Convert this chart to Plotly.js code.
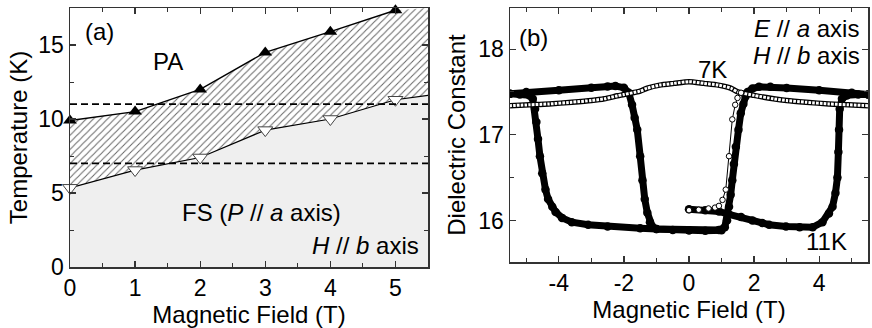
<!DOCTYPE html>
<html><head><meta charset="utf-8">
<script src="https://cdn.plot.ly/plotly-3.0.1.min.js"></script>
<style>html,body{margin:0;padding:0;background:#fff}#chart{width:872px;height:328px}</style>
</head><body><div id="chart"></div>
<script>
// ---------- Panel (a): H-T phase diagram ----------
const fieldA = [0, 1, 2, 3, 4, 5];
const tUpper = [9.9, 10.5, 12.0, 14.5, 15.9, 17.35];
const tLower = [5.35, 6.55, 7.4, 9.25, 10.0, 11.3];
const boundaryField = [0, 1, 2, 3, 4, 5, 5.5];
const upperBoundary = [9.9, 10.5, 12.0, 14.5, 15.9, 17.35, 17.5];
const lowerBoundary = [5.35, 6.55, 7.4, 9.25, 10.0, 11.3, 11.6];
const dashedLevels = [7, 11];
const tickValsA = [0, 1, 2, 3, 4, 5];
const tickValsTA = [0, 5, 10, 15];

// ---------- Panel (b): dielectric constant vs field ----------
// 11 K: virgin sweep 0 -> +5.5 T
const h11Virgin = [0, 0.5, 0.92, 1.23, 1.6, 1.95, 2.25, 2.46, 2.98, 3.4, 3.8, 4.1, 4.3, 4.41, 4.5, 4.56, 4.59, 4.61, 4.63, 4.7, 4.85, 5.2, 5.5];
const e11Virgin = [16.13, 16.12, 16.105, 16.07, 16.04, 16.0, 15.97, 15.95, 15.93, 15.92, 15.92, 15.98, 16.08, 16.16, 16.32, 16.5, 16.8, 17.06, 17.3, 17.42, 17.46, 17.47, 17.47];
// 11 K: sweep +5.5 -> -5.5 T
const h11Down = [5.5, 5.0, 4.0, 3.0, 2.5, 2.15, 1.95, 1.8, 1.74, 1.67, 1.59, 1.52, 1.44, 1.38, 1.33, 1.28, 1.23, 1.17, 1.1, 0.92, 0, -1.0, -1.5, -2.5, -3.1, -3.6, -3.9, -4.1, -4.2, -4.33, -4.41, -4.51, -4.58, -4.64, -4.69, -4.73, -4.8, -4.9, -5.2, -5.5];
const e11Down = [17.47, 17.49, 17.52, 17.545, 17.56, 17.56, 17.54, 17.5, 17.45, 17.36, 17.25, 17.06, 16.86, 16.66, 16.47, 16.3, 16.16, 16.0, 15.92, 15.89, 15.885, 15.9, 15.91, 15.93, 15.95, 15.98, 16.03, 16.1, 16.16, 16.25, 16.36, 16.55, 16.75, 16.95, 17.15, 17.3, 17.42, 17.46, 17.47, 17.48];
// 11 K: sweep -5.5 -> +1 T
const h11Up = [-5.5, -5.0, -4.0, -3.0, -2.5, -2.26, -2.0, -1.85, -1.75, -1.67, -1.59, -1.5, -1.43, -1.36, -1.28, -1.2, -1.13, -1.0, -0.5, 0, 0.5, 1.0];
const e11Up = [17.48, 17.5, 17.52, 17.55, 17.565, 17.57, 17.55, 17.49, 17.35, 17.2, 17.06, 16.75, 16.47, 16.25, 16.09, 15.98, 15.93, 15.9, 15.89, 15.885, 15.88, 15.885];
// 7 K: virgin sweep
const h7Virgin = [0, 0.3, 0.6, 0.8, 0.92, 1.03, 1.13, 1.23, 1.33, 1.42, 1.49, 1.6];
const e7Virgin = [16.12, 16.125, 16.14, 16.15, 16.17, 16.24, 16.36, 16.75, 17.18, 17.35, 17.43, 17.49];
// 7 K: field loop (both directions overlap)
const h7Loop = [5.5, 4.9, 4.3, 3.6, 3.0, 2.6, 2.0, 1.5, 1.28, 0.9, 0.46, 0, -0.46, -0.9, -1.28, -1.5, -2.0, -2.2, -2.6, -3.0, -3.6, -4.3, -4.9, -5.5];
const e7Loop = [17.34, 17.35, 17.36, 17.38, 17.40, 17.42, 17.46, 17.5, 17.545, 17.58, 17.60, 17.62, 17.60, 17.58, 17.545, 17.51, 17.47, 17.455, 17.42, 17.40, 17.38, 17.36, 17.35, 17.34];
const tickValsB = [-4, -2, 0, 2, 4];
const tickTextB = ['-4', '-2', '0', '2', '4'];
const tickValsEps = [16, 17, 18];

const FONT = 'Liberation Sans, Arial, sans-serif';
const W = 872, H = 328;

const curve11 = (x, y) => ({x: x, y: y, xaxis: 'x2', yaxis: 'y2', type: 'scatter', mode: 'lines+markers',
  line: {width: 7, color: '#000'}, marker: {size: 8.5, color: '#000'}});

const traces = [
  // gray FS region
  {x: boundaryField, y: lowerBoundary, type: 'scatter', mode: 'lines', fill: 'tozeroy',
   fillcolor: '#efefef', line: {width: 0, color: '#efefef'}, hoverinfo: 'skip'},
  // hatched region
  {x: boundaryField, y: upperBoundary, type: 'scatter', mode: 'lines', fill: 'tonexty',
   fillcolor: 'rgba(255,255,255,0)', line: {width: 0, color: '#666'},
   fillpattern: {shape: '/', fgcolor: '#666', bgcolor: 'rgba(255,255,255,0)', size: 5, solidity: 0.2},
   hoverinfo: 'skip'},
  // lower boundary line
  {x: boundaryField, y: lowerBoundary, type: 'scatter', mode: 'lines', line: {width: 1.2, color: '#000'}},
  // upper transition (filled triangles)
  {x: fieldA, y: tUpper, type: 'scatter', mode: 'lines+markers', cliponaxis: false, line: {width: 1.4, color: '#000'},
   marker: {symbol: 'triangle-up', size: 12, color: '#000'}},
  // lower transition (open triangles)
  {x: fieldA, y: tLower, type: 'scatter', mode: 'markers', cliponaxis: false,
   marker: {symbol: 'triangle-down', size: 13, color: '#fff', line: {width: 1, color: '#444'}}},

  // 11K
  curve11(h11Virgin, e11Virgin),
  curve11(h11Down, e11Down),
  curve11(h11Up, e11Up),
  // 7K loop as chain of open circles
  {x: h7Loop, y: e7Loop, xaxis: 'x2', yaxis: 'y2', type: 'scatter', mode: 'lines',
   line: {width: 5.5, color: '#000', shape: 'spline', smoothing: 0.6}},
  {x: h7Loop, y: e7Loop, xaxis: 'x2', yaxis: 'y2', type: 'scatter', mode: 'lines',
   line: {width: 3, color: '#fff', shape: 'spline', smoothing: 0.6, dash: '2.6px,1.2px'}},
  // 7K virgin
  {x: h7Virgin, y: e7Virgin, xaxis: 'x2', yaxis: 'y2', type: 'scatter', mode: 'lines+markers',
   line: {width: 1, color: '#000'},
   marker: {size: 5.5, color: '#fff', line: {width: 1, color: '#000'}}}
];

function axisCommon() {
  return {showline: true, linecolor: '#333', linewidth: 1.5, mirror: 'ticks', ticks: 'inside',
    ticklen: 6, tickwidth: 1.2, tickcolor: '#333', showgrid: false, zeroline: false,
    tickfont: {family: FONT, size: 23, color: '#000'}};
}

const layout = {
  width: W, height: H, margin: {l: 0, r: 0, t: 0, b: 0},
  paper_bgcolor: '#fff', plot_bgcolor: '#fff', showlegend: false,
  font: {family: FONT, color: '#000'},
  xaxis: Object.assign(axisCommon(), {
    domain: [70 / W, 428 / W], range: [0, 5.5], tickmode: 'array', tickvals: tickValsA,
    minor: {dtick: 0.5, ticks: 'inside', ticklen: 4, tickcolor: '#333', tickwidth: 1},
    title: {text: 'Magnetic Field (T)', font: {family: FONT, size: 24, color: '#000'}, standoff: 2}
  }),
  yaxis: Object.assign(axisCommon(), {
    domain: [61 / H, 320 / H], range: [0, 17.5], tickmode: 'array', tickvals: tickValsTA,
    minor: {dtick: 2.5, ticks: 'inside', ticklen: 4, tickcolor: '#333', tickwidth: 1},
    title: {text: 'Temperature (K)', font: {family: FONT, size: 24, color: '#000'}, standoff: 4}
  }),
  xaxis2: Object.assign(axisCommon(), {
    domain: [510 / W, 868 / W], range: [-5.5, 5.5], anchor: 'y2', tickmode: 'array',
    tickvals: tickValsB, ticktext: tickTextB,
    minor: {dtick: 1, ticks: 'inside', ticklen: 4, tickcolor: '#333', tickwidth: 1},
    title: {text: 'Magnetic Field (T)', font: {family: FONT, size: 24, color: '#000'}, standoff: 4}
  }),
  yaxis2: Object.assign(axisCommon(), {
    domain: [66 / H, 320 / H], range: [15.515, 18.48], anchor: 'x2', tickmode: 'array',
    tickvals: tickValsEps,
    minor: {dtick: 0.5, ticks: 'inside', ticklen: 4, tickcolor: '#333', tickwidth: 1},
    title: {text: 'Dielectric Constant', font: {family: FONT, size: 24, color: '#000'}, standoff: 6}
  }),
  shapes: dashedLevels.map(v => ({type: 'line', xref: 'x domain', yref: 'y', x0: 0, x1: 1, y0: v, y1: v,
    layer: 'above', line: {color: '#000', width: 1.8, dash: '7px,4px'}})),
  annotations: [
    {text: '(a)', x: 0.46, y: 15.9, xref: 'x', yref: 'y', showarrow: false, font: {size: 24}},
    {text: 'PA', x: 1.5, y: 13.9, xref: 'x', yref: 'y', showarrow: false, font: {size: 24}},
    {text: 'FS (<i>P</i> // <i>a</i> axis)', x: 2.94, y: 3.7, xref: 'x', yref: 'y', showarrow: false, font: {size: 24}},
    {text: '<i>H</i> // <i>b</i> axis', x: 5.4, y: 1.42, xref: 'x', yref: 'y', xanchor: 'right', showarrow: false, font: {size: 24}},
    {text: '(b)', x: -4.78, y: 18.14, xref: 'x2', yref: 'y2', showarrow: false, font: {size: 24}},
    {text: '<i>E</i> // <i>a</i> axis', x: 5.3, y: 18.24, xref: 'x2', yref: 'y2', xanchor: 'right', showarrow: false, font: {size: 24}},
    {text: '<i>H</i> // <i>b</i> axis', x: 5.33, y: 17.92, xref: 'x2', yref: 'y2', xanchor: 'right', showarrow: false, font: {size: 24}},
    {text: '7K', x: 0.72, y: 17.76, xref: 'x2', yref: 'y2', showarrow: false, font: {size: 24}},
    {text: '11K', x: 4.23, y: 15.75, xref: 'x2', yref: 'y2', showarrow: false, font: {size: 24}}
  ]
};

Plotly.newPlot('chart', traces, layout, {staticPlot: true, displayModeBar: false});
</script></body></html>
